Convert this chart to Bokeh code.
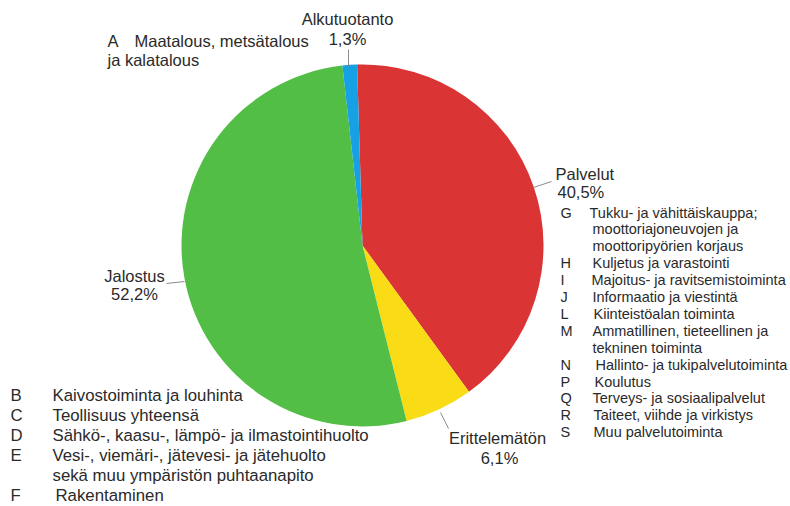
import math
from bokeh.plotting import figure
from bokeh.models import Range1d
from bokeh.core.properties import value
from bokeh.embed import file_html
from bokeh.resources import INLINE

# ---- data ----
categories = ["Palvelut", "Erittelemätön", "Jalostus", "Alkutuotanto"]
shares = [40.5, 6.1, 52.2, 1.3]
colors = ["#DB3434", "#F9DC16", "#52BE45", "#15A1E4"]

right_codes = ["G", "", "", "H", "I", "J", "L", "M", "", "N", "P", "Q", "R", "S"]
right_texts = ["Tukku- ja vähittäiskauppa;", "moottoriajoneuvojen ja",
               "moottoripyörien korjaus", "Kuljetus ja varastointi",
               "Majoitus- ja ravitsemistoiminta", "Informaatio ja viestintä",
               "Kiinteistöalan toiminta", "Ammatillinen, tieteellinen ja",
               "tekninen toiminta", "Hallinto- ja tukipalvelutoiminta",
               "Koulutus", "Terveys- ja sosiaalipalvelut",
               "Taiteet, viihde ja virkistys", "Muu palvelutoiminta"]

left_codes = ["B", "C", "D", "E", "", "F"]
left_texts = ["Kaivostoiminta ja louhinta", "Teollisuus yhteensä",
              "Sähkö-, kaasu-, lämpö- ja ilmastointihuolto",
              "Vesi-, viemäri-, jätevesi- ja  jätehuolto",
              "sekä muu ympäristön puhtaanapito", "Rakentaminen"]

a_code = "A"
a_texts = ["Maatalous, metsätalous", "ja kalatalous"]

# ---- layout ----
W, H = 790, 506
def Y(sy):
    # picture y (from top) -> data y
    return H - sy

FONT = value("Liberation Sans")
TXT = "#2a2a2a"

p = figure(width=W, height=H, x_range=Range1d(0, W), y_range=Range1d(0, H),
           output_backend="svg", toolbar_location=None, min_border=0,
           outline_line_color=None, background_fill_color="white")
p.axis.visible = False
p.grid.visible = False

cx, cy, r = 362, Y(245), 181
offset = math.radians(91.7)
total = sum(shares)
cum = 0.0
starts, ends = [], []
for s in shares:
    starts.append(offset - 2 * math.pi * cum / total)
    cum += s
    ends.append(offset - 2 * math.pi * cum / total)

p.wedge(x=[cx] * len(shares), y=[cy] * len(shares), radius=r, radius_units="screen",
        start_angle=starts, end_angle=ends, direction="clock",
        fill_color=colors, line_color=None)

def pct(v):
    return f"{v:.1f}".replace(".", ",") + "%"

# leader lines
p.segment(x0=[348, 533, 166, 440], y0=[Y(49), Y(187), Y(283), Y(412)],
          x1=[348, 551, 184, 448], y1=[Y(66), Y(181), Y(281), Y(428)],
          line_color="#8c8c8c", line_width=1)

main_fs = "16.5px"
# Palvelut
p.text(x=[555], y=[Y(173)], text=[categories[0]], text_font=FONT, text_font_size=main_fs,
       text_color=TXT, text_align="left", text_baseline="middle")
p.text(x=[557], y=[Y(191)], text=[pct(shares[0])], text_font=FONT, text_font_size=main_fs,
       text_color=TXT, text_align="left", text_baseline="middle")
# Erittelemätön
p.text(x=[497, 499], y=[Y(437), Y(457)], text=[categories[1], pct(shares[1])], text_font=FONT,
       text_font_size=main_fs, text_color=TXT, text_align="center", text_baseline="middle")
# Jalostus
p.text(x=[134, 134], y=[Y(275), Y(293)], text=[categories[2], pct(shares[2])], text_font=FONT,
       text_font_size=main_fs, text_color=TXT, text_align="center", text_baseline="middle")
# Alkutuotanto
p.text(x=[347, 347], y=[Y(18), Y(38)], text=[categories[3], pct(shares[3])], text_font=FONT,
       text_font_size=main_fs, text_color=TXT, text_align="center", text_baseline="middle")

# A label
p.text(x=[107], y=[Y(40)], text=[a_code], text_font=FONT, text_font_size=main_fs,
       text_color=TXT, text_align="left", text_baseline="middle")
p.text(x=[134, 107], y=[Y(40), Y(59)], text=a_texts, text_font=FONT, text_font_size=main_fs,
       text_color=TXT, text_align="left", text_baseline="middle")

# right list
ry = [Y(212 + i * 16.9) for i in range(len(right_texts))]
rx = [589, 592, 592, 592, 591, 592, 593, 592, 592, 595, 594, 592, 593, 593]
p.text(x=[560] * len(right_codes), y=ry, text=right_codes, text_font=FONT, text_font_size="14.5px",
       text_color=TXT, text_align="left", text_baseline="middle")
p.text(x=rx, y=ry, text=right_texts, text_font=FONT, text_font_size="14.5px",
       text_color=TXT, text_align="left", text_baseline="middle")

# bottom-left list
ly = [Y(395 + i * 20) for i in range(len(left_texts))]
p.text(x=[10] * len(left_codes), y=ly, text=left_codes, text_font=FONT, text_font_size="16.8px",
       text_color=TXT, text_align="left", text_baseline="middle")
p.text(x=[52, 52, 52, 52, 52, 55], y=ly, text=left_texts, text_font=FONT, text_font_size="16.8px",
       text_color=TXT, text_align="left", text_baseline="middle")

open("out.html", "w").write(file_html(p, INLINE))
